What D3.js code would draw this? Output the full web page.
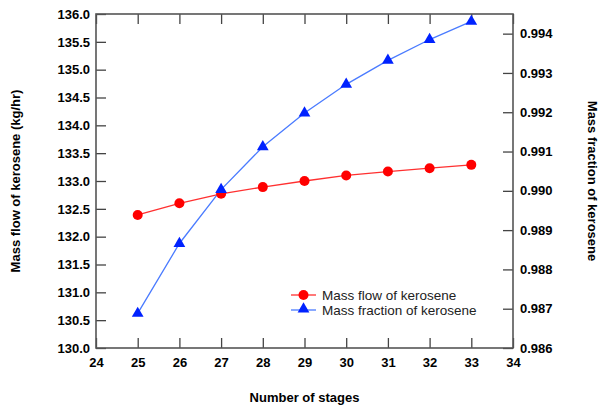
<html>
<script src='https://cdn.jsdelivr.net/npm/d3@7/dist/d3.min.js'></script>
<style>
body {margin: 0; background: white;}
.tick text {font: bold 13px "Liberation Sans", Arial, sans-serif; fill: black;}
.tick line {stroke: #444; stroke-width: 1.3;}
.title {font: bold 13px "Liberation Sans", Arial, sans-serif; fill: black;}
.legend text {font: 13.5px "Liberation Sans", Arial, sans-serif; fill: #222;}
</style>
<body>
<svg width=600 height=410></svg>
<script>
// data
var stages = [25, 26, 27, 28, 29, 30, 31, 32, 33];
var massFlow = [132.39, 132.60, 132.77, 132.89, 133.00, 133.10, 133.17, 133.23, 133.29];
var massFraction = [0.98688, 0.98866, 0.99003, 0.99112, 0.99198, 0.99271, 0.99332, 0.99385, 0.99431];
var xTicks = [24, 25, 26, 27, 28, 29, 30, 31, 32, 33, 34];
var leftTicks = [130, 130.5, 131, 131.5, 132, 132.5, 133, 133.5, 134, 134.5, 135, 135.5, 136];
var rightTicks = [0.986, 0.987, 0.988, 0.989, 0.990, 0.991, 0.992, 0.993, 0.994];

// plot frame (note: "top" is taken by window.top)
var pLeft = 96, pRight = 513, pTop = 14, pBottom = 348;

var svg = d3.select("svg");

var x = d3.scaleLinear().domain([24, 34]).range([pLeft, pRight]);
var y1 = d3.scaleLinear().domain([130, 136]).range([pBottom, pTop]);
var y2 = d3.scaleLinear().domain([0.986, 0.9945]).range([pBottom, pTop]);

// axes, ticks point inward
svg.append("g")
    .attr("transform", "translate(0," + pBottom + ")")
    .call(d3.axisBottom(x).tickValues(xTicks).tickSizeInner(-10).tickSizeOuter(0).tickPadding(10).tickFormat(d3.format("d")));
svg.append("g")
    .attr("transform", "translate(0," + pTop + ")")
    .call(d3.axisTop(x).tickValues(xTicks).tickSizeInner(-10).tickSizeOuter(0).tickFormat(""));
svg.append("g")
    .attr("transform", "translate(" + pLeft + ",0)")
    .call(d3.axisLeft(y1).tickValues(leftTicks).tickSizeInner(-10).tickSizeOuter(0).tickPadding(6).tickFormat(d3.format(".1f")));
svg.append("g")
    .attr("transform", "translate(" + pRight + ",0)")
    .call(d3.axisRight(y2).tickValues(rightTicks).tickSizeInner(-10).tickSizeOuter(0).tickPadding(7).tickFormat(d3.format(".3f")));
svg.selectAll(".domain").remove();

svg.append("rect")
    .attr("x", pLeft).attr("y", pTop)
    .attr("width", pRight - pLeft).attr("height", pBottom - pTop)
    .attr("fill", "none").attr("stroke", "#555").attr("stroke-width", 1.6);

// titles
svg.append("text").attr("class", "title")
    .attr("transform", "translate(15," + (pTop + pBottom) / 2 + ") rotate(-90)")
    .attr("text-anchor", "middle").attr("dy", "0.35em")
    .text("Mass flow of kerosene (kg/hr)");
svg.append("text").attr("class", "title")
    .attr("transform", "translate(593," + (pTop + pBottom) / 2 + ") rotate(90)")
    .attr("text-anchor", "middle").attr("dy", "0.35em")
    .text("Mass fraction of kerosene");
svg.append("text").attr("class", "title")
    .attr("x", (pLeft + pRight) / 2).attr("y", 402)
    .attr("text-anchor", "middle")
    .text("Number of stages");

var tri = d3.symbol().type(d3.symbolTriangle).size(60);

// mass flow series
var line1 = d3.line().x(function(d, i) { return x(stages[i]); }).y(function(d) { return y1(d); });
svg.append("path").attr("d", line1(massFlow))
    .attr("fill", "none").attr("stroke", "#ff3030").attr("stroke-width", 1.3);

// mass fraction series
var line2 = d3.line().x(function(d, i) { return x(stages[i]); }).y(function(d) { return y2(d); });
svg.append("path").attr("d", line2(massFraction))
    .attr("fill", "none").attr("stroke", "#4a7bff").attr("stroke-width", 1.3);

svg.selectAll(".dot").data(massFlow).enter().append("circle")
    .attr("cx", function(d, i) { return x(stages[i]); })
    .attr("cy", function(d) { return y1(d); })
    .attr("r", 5).attr("fill", "#ff0000");

svg.selectAll(".tri").data(massFraction).enter().append("path")
    .attr("d", tri)
    .attr("transform", function(d, i) { return "translate(" + x(stages[i]) + "," + y2(d) + ")"; })
    .attr("fill", "#0022ff");

// legend
var legend = svg.append("g").attr("class", "legend");
legend.append("line").attr("x1", 291).attr("x2", 316).attr("y1", 295).attr("y2", 295)
    .attr("stroke", "#ff3030").attr("stroke-width", 1.3);
legend.append("circle").attr("cx", 303.5).attr("cy", 295).attr("r", 5).attr("fill", "#ff0000");
legend.append("text").attr("x", 322).attr("y", 295).attr("dy", "0.35em").text("Mass flow of kerosene");
legend.append("line").attr("x1", 291).attr("x2", 316).attr("y1", 310).attr("y2", 310)
    .attr("stroke", "#4a7bff").attr("stroke-width", 1.3);
legend.append("path").attr("d", tri).attr("transform", "translate(303.5,309)").attr("fill", "#0022ff");
legend.append("text").attr("x", 322).attr("y", 310).attr("dy", "0.35em").text("Mass fraction of kerosene");
</script>
</body>
</html>
